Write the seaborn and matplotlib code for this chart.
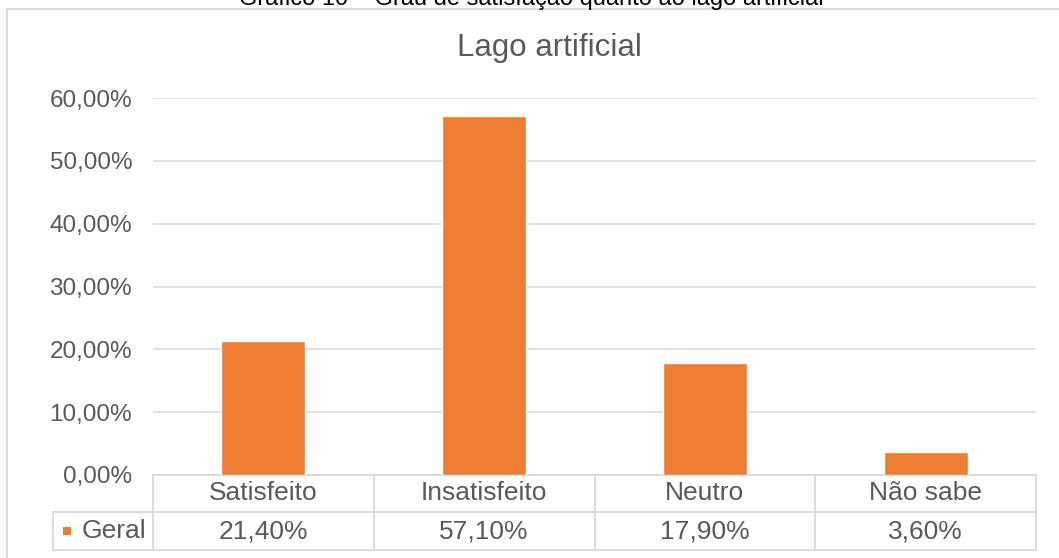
import matplotlib
matplotlib.use("Agg")
import matplotlib.pyplot as plt
import matplotlib.transforms as mtransforms
from matplotlib.lines import Line2D
from matplotlib.patches import Rectangle
import seaborn as sns
import pandas as pd

# Data
categories = ["Satisfeito", "Insatisfeito", "Neutro", "Não sabe"]
geral = [21.40, 57.10, 17.90, 3.60]
series_name = "Geral"
yticks = [0, 10, 20, 30, 40, 50, 60]
chart_title = "Lago artificial"
caption = "Gráfico 10 – Grau de satisfação quanto ao lago artificial"

ORANGE = "#ED7D31"
TEXT = "#595959"
GRID = "#D9D9D9"

W, H = 1059, 558


def fx(px):
    return px / W


def fy(py):
    return 1 - py / H


def pct(v):
    return f"{v:.2f}%".replace(".", ",")


sns.set_theme(style="white")
plt.rcParams["font.family"] = ["Liberation Sans", "DejaVu Sans"]

fig = plt.figure(figsize=(W / 100, H / 100), dpi=100)
fig.patch.set_facecolor("white")

# plot area
ax_left, ax_right, ax_top, ax_bottom = 153, 1036, 98, 475
ax = fig.add_axes([fx(ax_left), fy(ax_bottom), (ax_right - ax_left) / W,
                   (ax_bottom - ax_top) / H])

df = pd.DataFrame({"categoria": categories, "valor": geral})
sns.barplot(data=df, x="categoria", y="valor", order=categories,
            color=ORANGE, saturation=1, width=0.38, ax=ax, zorder=3)

ax.set_xlim(-0.5, len(categories) - 0.5)
ax.set_ylim(0, 60)
ax.set_yticks(yticks)
ax.set_yticklabels([pct(t) for t in yticks])
ax.tick_params(axis="y", length=0, pad=15, labelsize=17.5, labelcolor=TEXT)
ax.set_xticks([])
ax.set_xlabel("")
ax.set_ylabel("")
for s in ax.spines.values():
    s.set_visible(False)
ax.yaxis.grid(True, color=GRID, lw=1.1)
ax.set_axisbelow(True)
ax.set_facecolor("none")

# data table under the plot
axh = ax_bottom - ax_top
axw = ax_right - ax_left
row1 = (ax_bottom - 512) / axh
row2 = (ax_bottom - 550) / axh
leg_left = (53 - ax_left) / axw
lw = 1.3

blend = mtransforms.blended_transform_factory(ax.transData, ax.transAxes)

ax.add_line(Line2D([0, 1], [0, 0], transform=ax.transAxes, color=GRID,
                   lw=lw, clip_on=False))
ax.add_line(Line2D([leg_left, 1], [row1, row1], transform=ax.transAxes,
                   color=GRID, lw=lw, clip_on=False))
ax.add_line(Line2D([leg_left, 1], [row2, row2], transform=ax.transAxes,
                   color=GRID, lw=lw, clip_on=False))
ax.add_line(Line2D([leg_left, leg_left], [row1, row2], transform=ax.transAxes,
                   color=GRID, lw=lw, clip_on=False))
for i in range(len(categories) + 1):
    ax.add_line(Line2D([i - 0.5, i - 0.5], [0, row2], transform=blend,
                       color=GRID, lw=lw, clip_on=False))

for i, (cat, v) in enumerate(zip(categories, geral)):
    ax.text(i, row1 / 2, cat, transform=blend, ha="center", va="center",
            fontsize=19, color=TEXT, clip_on=False)
    ax.text(i, (row1 + row2) / 2, pct(v), transform=blend, ha="center",
            va="center", fontsize=19, color=TEXT, clip_on=False)

# legend key in the table
fig.add_artist(Rectangle((fx(63), fy(535)), 8 / W, 8 / H, transform=fig.transFigure,
                         facecolor=ORANGE, edgecolor="none"))
fig.text(fx(82), fy(531), series_name, ha="left", va="center", fontsize=19,
         color=TEXT)

# chart frame
fig.add_artist(Line2D([fx(7), fx(7)], [fy(9), 0], transform=fig.transFigure,
                      color=GRID, lw=1.3))
fig.add_artist(Line2D([fx(7), 1], [fy(9), fy(9)], transform=fig.transFigure,
                      color=GRID, lw=1.3))

# titles
fig.text(fx(549), fy(48), chart_title, ha="center", va="center", fontsize=22.5,
         color=TEXT)
fig.text(fx(531), fy(5), caption, ha="center", va="baseline", fontsize=17,
         color="black")

fig.savefig("out.png", dpi=100, facecolor="white")
